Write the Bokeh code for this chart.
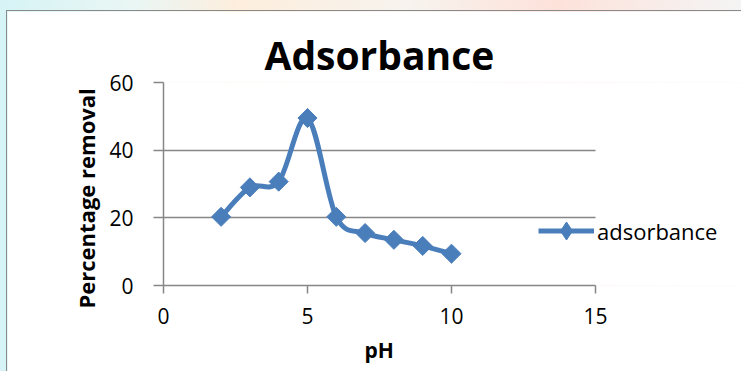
import numpy as np
from bokeh.plotting import figure
from bokeh.models import Legend, LegendItem, ColumnDataSource, Title
from bokeh.layouts import column
from bokeh.embed import file_html
from bokeh.resources import INLINE

# ---- data ----
ph = [2, 3, 4, 5, 6, 7, 8, 9, 10]
removal = [20.3, 29.0, 30.7, 49.5, 20.3, 15.5, 13.5, 11.7, 9.4]
x_ticks = [0, 5, 10, 15]
y_ticks = [0, 20, 40, 60]
series_name = "adsorbance"
title_text = "Adsorbance"
x_label = "pH"
y_label = "Percentage removal"

BLUE = "#4A7EBB"
GRAY = "#868686"
FONT = "Open Sans"

# x axis runs 0..15; frame continues to the right so the legend can sit beside it
X_MAX_VIEW = 20.07

p = figure(width=734, height=360, x_range=(0, X_MAX_VIEW), y_range=(0, 60),
           output_backend="svg", toolbar_location=None,
           min_border_left=156, min_border_right=0,
           min_border_top=71, min_border_bottom=86,
           margin=(11, 0, 0, 7))
p.background_fill_color = "white"
p.border_fill_color = "white"
p.outline_line_color = None
p.styles = {"outline": "1.5px solid #8a8a8a"}

p.title.text = title_text
p.title.align = "left"
p.title.offset = 101
p.title.text_font = FONT
p.title.text_font_size = "39px"
p.title.text_font_style = "bold"
p.title.text_color = "black"
p.title.standoff = 3

# smoothed line (Catmull-Rom style bezier through the data points)
px = np.array(ph, dtype=float)
py = np.array(removal, dtype=float)
xp = np.concatenate([[px[0]], px, [px[-1]]])
yp = np.concatenate([[py[0]], py, [py[-1]]])
t = 1.0 / 6.0
cx0 = px[:-1] + (xp[2:-1] - xp[:-3]) * t
cy0 = py[:-1] + (yp[2:-1] - yp[:-3]) * t
cx1 = px[1:] - (xp[3:] - xp[1:-2]) * t
cy1 = py[1:] - (yp[3:] - yp[1:-2]) * t
bsrc = ColumnDataSource(dict(x0=px[:-1], y0=py[:-1], x1=px[1:], y1=py[1:],
                             cx0=cx0, cy0=cy0, cx1=cx1, cy1=cy1))
p.bezier(x0="x0", y0="y0", x1="x1", y1="y1", cx0="cx0", cy0="cy0",
         cx1="cx1", cy1="cy1", source=bsrc, line_color=BLUE, line_width=5)

p.scatter(ph, removal, marker="square", angle=np.pi / 4, size=13.5,
          fill_color=BLUE, line_color=BLUE)

# legend-only renderers (hidden; legend still draws their glyphs)
leg_line = p.line(ph, removal, line_color=BLUE, line_width=5, visible=False)
leg_pts = p.scatter(ph, removal, marker="diamond", size=19,
                    fill_color=BLUE, line_color=BLUE, visible=False)

legend = Legend(items=[LegendItem(label=series_name, renderers=[leg_line, leg_pts])],
                location=(375, 32))
legend.background_fill_alpha = 0
legend.border_line_color = None
legend.padding = 0
legend.margin = 0
legend.glyph_width = 56
legend.glyph_height = 45
legend.label_height = 20
legend.label_standoff = 3
legend.label_text_font = FONT
legend.label_text_font_size = "22px"
legend.label_text_color = "black"
p.add_layout(legend, "center")

# axes
for ax in (p.xaxis, p.yaxis):
    ax.axis_line_color = GRAY
    ax.axis_line_width = 1.5
    ax.major_tick_line_color = GRAY
    ax.major_tick_line_width = 1.5
    ax.major_tick_in = 0
    ax.minor_tick_line_color = None
    ax.major_label_text_font = FONT
    ax.major_label_text_font_size = "21px"
    ax.major_label_text_color = "black"

p.xaxis.ticker = x_ticks
p.yaxis.ticker = y_ticks
p.xaxis.bounds = (0, 15)
p.xaxis.major_tick_out = 8
p.yaxis.major_tick_out = 10
p.xaxis.major_label_standoff = 14
p.yaxis.major_label_standoff = 20

# axis titles as side titles so they can be positioned along the 0..15 / 0..60 axes
ytitle = Title(text=y_label, align="left", offset=-23, standoff=11,
               text_font=FONT, text_font_size="22px", text_font_style="bold",
               text_color="black")
p.add_layout(ytitle, "left")

xtitle = Title(text=x_label, align="left", offset=201, standoff=15,
               text_font=FONT, text_font_size="21px", text_font_style="bold",
               text_color="black")
p.add_layout(xtitle, "below")

p.xgrid.visible = False
p.ygrid.grid_line_color = GRAY
p.ygrid.grid_line_width = 1.5
p.ygrid.cross_bounds = (0, 15)

outer = column(p, width=741, height=371,
               styles={"background": "linear-gradient(90deg, #d6f3f5 0%, #e9f6f4 18%, #fdeedd 32%, #f7f3ee 55%, #fde2da 75%, #f4f4f4 100%)"})

open("out.html", "w").write(file_html(outer, INLINE))
